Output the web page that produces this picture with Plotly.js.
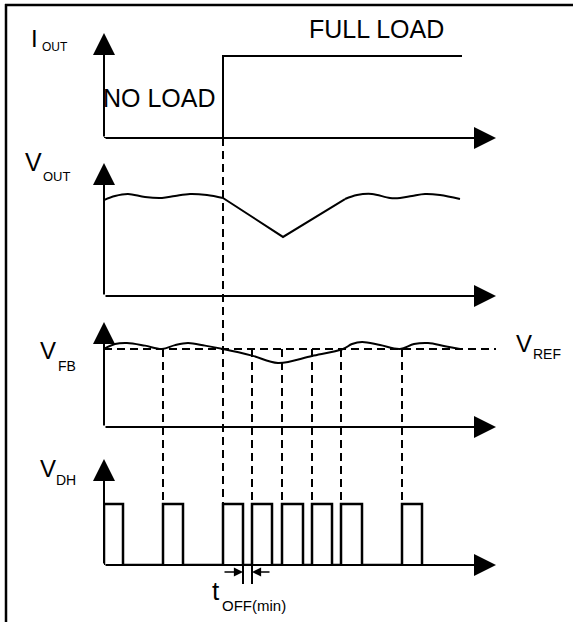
<!DOCTYPE html>
<html>
<head>
<meta charset="utf-8">
<script src="https://cdn.plot.ly/plotly-3.0.1.min.js"></script>
<style>html,body{margin:0;padding:0;background:#fff;}#chart{width:573px;height:622px;}</style>
</head>
<body>
<div id="chart"></div>
<script>
// ---------- data (time in arbitrary units, signals in arbitrary units 0..10) ----------
const iout_t = [0, 11.9, 11.9, 35.8];
const iout_v = [0, 0, 7.8, 7.8];

const vout_t = [0, 1.1, 2.4, 4.1, 5.8, 7.1, 8.6, 10.3, 11.9, 17.9, 24.1, 25.3, 26.8, 28.6, 29.6, 30.8, 32.1, 33.6, 35.6];
const vout_v = [7.22, 7.52, 7.67, 7.44, 7.37, 7.52, 7.67, 7.59, 7.37, 4.44, 7.29, 7.59, 7.67, 7.37, 7.37, 7.52, 7.67, 7.59, 7.29];
const vout_drop_start = 8;   // index where the load step dip begins
const vout_drop_end = 10;    // index where recovery completes

const vfb_t = [0, 1.1, 2.3, 4.1, 5.8, 7.1, 8.4, 10.1, 11.9, 14.8, 17.4, 20.8, 23.9, 24.8, 25.8, 27.6, 29.6, 31.0, 32.4, 34.1, 35.6];
const vfb_v = [7.43, 7.9, 8.0, 7.75, 7.43, 7.8, 8.0, 7.75, 7.43, 6.8, 6.1, 6.76, 7.43, 7.9, 8.1, 7.8, 7.43, 7.9, 8.0, 7.7, 7.43];
const vref = 7.43;

const pulse_on  = [0, 5.9, 11.9, 14.8, 17.8, 20.8, 23.7, 29.8];
const pulse_off = [1.9, 7.9, 13.9, 16.8, 19.9, 22.8, 25.8, 31.8];
const pulse_high = 5.75;

const load_step_t = 11.9;
const toff_marks = [13.9, 14.8];

const labels_main = ["I", "V", "V", "V", "V"];
const labels_sub = ["OUT", "OUT", "FB", "REF", "DH"];
const text_no_load = "NO LOAD";
const text_full_load = "FULL LOAD";
const text_toff = ["t", "OFF(min)"];

// ---------- layout helpers ----------
const W = 573, H = 622;
const FONT = "Liberation Sans, Arial, sans-serif";
const py = p => 1 - p / H;
const pxf = p => p / W;
const XMAX = 39.2;
// panel geometry: [x-axis pixel row, arrow tip pixel row]
const panels = [[138, 33], [296, 163], [427, 322], [565, 459]];
const yaxes = ["y", "y2", "y3", "y4"];

const layout = {
  width: W, height: H,
  margin: {l: 0, r: 0, t: 0, b: 0},
  paper_bgcolor: "#fff", plot_bgcolor: "rgba(0,0,0,0)",
  showlegend: false,
  font: {family: FONT, color: "#000"},
  xaxis: {domain: [pxf(104), pxf(496)], range: [0, XMAX], visible: false, fixedrange: true},
  annotations: [], shapes: []
};
panels.forEach((p, i) => {
  const key = i === 0 ? "yaxis" : "yaxis" + (i + 1);
  layout[key] = {domain: [py(p[0]), py(p[1])], range: [0, 10], visible: false, anchor: "x", fixedrange: true};
});
function paperY(panel, v) {
  const d = layout[panel === 0 ? "yaxis" : "yaxis" + (panel + 1)].domain;
  return d[0] + v / 10 * (d[1] - d[0]);
}

// axis arrows
const ARW = {showarrow: true, arrowhead: 2, arrowsize: 2.2, arrowwidth: 2, arrowcolor: "#000", standoff: 0, text: ""};
panels.forEach((p, i) => {
  const yr = yaxes[i];
  layout.annotations.push(Object.assign({}, ARW, {xref: "x", yref: yr, axref: "x", ayref: yr, x: 0, y: 10, ax: 0, ay: 0}));
  layout.annotations.push(Object.assign({}, ARW, {xref: "x", yref: yr, axref: "x", ayref: yr, x: XMAX, y: 0, ax: 0, ay: 0}));
});

// traces
const LINE = {color: "#000", width: 2};
const PLINE = {color: "#000", width: 2.5};
const traces = [];
traces.push({x: iout_t, y: iout_v, xaxis: "x", yaxis: "y", mode: "lines", line: LINE, hoverinfo: "skip", cliponaxis: false});
traces.push({x: vout_t.slice(0, vout_drop_start + 1), y: vout_v.slice(0, vout_drop_start + 1), xaxis: "x", yaxis: "y2", mode: "lines", line: Object.assign({shape: "spline", smoothing: 1}, LINE), hoverinfo: "skip"});
traces.push({x: vout_t.slice(vout_drop_start, vout_drop_end + 1), y: vout_v.slice(vout_drop_start, vout_drop_end + 1), xaxis: "x", yaxis: "y2", mode: "lines", line: LINE, hoverinfo: "skip"});
traces.push({x: vout_t.slice(vout_drop_end), y: vout_v.slice(vout_drop_end), xaxis: "x", yaxis: "y2", mode: "lines", line: Object.assign({shape: "spline", smoothing: 1}, LINE), hoverinfo: "skip"});
traces.push({x: vfb_t, y: vfb_v, xaxis: "x", yaxis: "y3", mode: "lines", line: Object.assign({shape: "spline", smoothing: 1}, LINE), hoverinfo: "skip"});
const dh_x = [], dh_y = [];
pulse_on.forEach((t, i) => { dh_x.push(t, t, pulse_off[i], pulse_off[i]); dh_y.push(0, pulse_high, pulse_high, 0); });
traces.push({x: dh_x, y: dh_y, xaxis: "x", yaxis: "y4", mode: "lines", line: PLINE, hoverinfo: "skip", cliponaxis: false});

// V_REF dashed line
layout.shapes.push({type: "line", xref: "x", yref: "y3", x0: 0, x1: XMAX, y0: vref, y1: vref, line: {color: "#000", width: 2, dash: "8px,5px"}});
// dashed sync lines
const pulseTopPaper = paperY(3, pulse_high);
layout.shapes.push({type: "line", xref: "x", yref: "paper", x0: load_step_t, x1: load_step_t, y0: paperY(0, 0), y1: pulseTopPaper, line: {color: "#000", width: 2, dash: "8px,5px"}});
pulse_on.slice(1).filter(t => t !== load_step_t).forEach(t => {
  layout.shapes.push({type: "line", xref: "x", yref: "paper", x0: t, x1: t, y0: paperY(2, vref), y1: pulseTopPaper, line: {color: "#000", width: 2, dash: "8px,5px"}});
});
// t_OFF(min) marks
toff_marks.forEach(t => {
  layout.shapes.push({type: "line", xref: "x", yref: "paper", x0: t, x1: t, y0: py(565), y1: py(584), line: {color: "#000", width: 2}});
});
const SM = {showarrow: true, arrowhead: 2, arrowsize: 1.3, arrowwidth: 1.4, arrowcolor: "#000", standoff: 0, text: "", xref: "x", yref: "paper", axref: "x", ayref: "paper"};
layout.annotations.push(Object.assign({}, SM, {x: toff_marks[0], y: py(572), ax: pulse_on[2], ay: py(572)}));
layout.annotations.push(Object.assign({}, SM, {x: toff_marks[1], y: py(572), ax: pulse_off[3] - 0.1, ay: py(572)}));

// frame
layout.shapes.push({type: "line", xref: "paper", yref: "paper", x0: pxf(6), x1: pxf(6), y0: py(4), y1: 0, line: {color: "#000", width: 2.5}});
layout.shapes.push({type: "line", xref: "paper", yref: "paper", x0: pxf(5), x1: 1, y0: py(5), y1: py(5), line: {color: "#000", width: 2.5}});

// text labels
function txt(s, x, y, size) {
  layout.annotations.push({text: s, xref: "paper", yref: "paper", x: pxf(x), y: py(y), xanchor: "left", yanchor: "middle", showarrow: false, font: {family: FONT, size: size, color: "#000"}, borderpad: 0});
}
txt(labels_main[0], 30, 38, 24);  txt(labels_sub[0], 41, 47, 12);
txt(labels_main[1], 24, 162, 25); txt(labels_sub[1], 42, 176, 13);
txt(labels_main[2], 39, 350, 24); txt(labels_sub[2], 57, 366, 14);
txt(labels_main[3], 515, 343, 24); txt(labels_sub[3], 532, 354, 14);
txt(labels_main[4], 39, 468, 24); txt(labels_sub[4], 55, 480, 14);
txt(text_full_load, 308, 29, 25);
txt(text_no_load, 102, 98, 25);
txt(text_toff[0], 211, 591, 26); txt(text_toff[1], 221, 605, 15);

Plotly.newPlot("chart", traces, layout, {staticPlot: true, displayModeBar: false});
</script>
</body>
</html>
